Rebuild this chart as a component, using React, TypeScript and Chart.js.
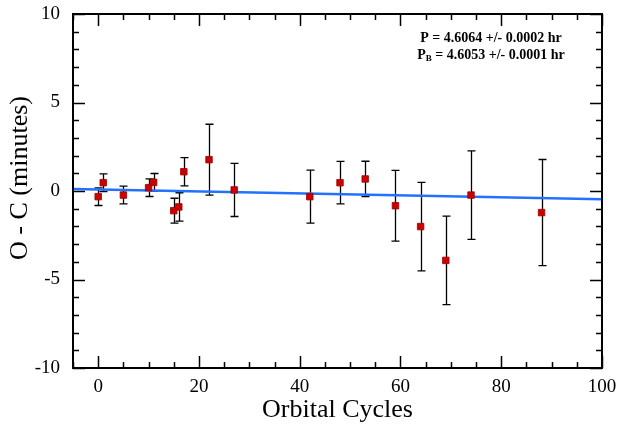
import React, { useEffect, useRef } from 'react';
import { Chart, registerables } from 'chart.js';

Chart.register(...registerables);

// ---- data ----
const cycles = [0, 1, 5, 10, 11, 15, 16, 17, 22, 27, 42, 48, 53, 59, 64, 69, 74, 88];
const ocMinutes = [-0.32, 0.47, -0.23, 0.19, 0.49, -1.11, -0.9, 1.09, 1.77, 0.06, -0.32, 0.47, 0.68, -0.83, -2.01, -3.92, -0.23, -1.22];
const ocErrors = [0.5, 0.5, 0.5, 0.5, 0.5, 0.7, 0.8, 0.8, 2.0, 1.5, 1.5, 1.2, 1.0, 2.0, 2.5, 2.5, 2.5, 3.0];
const fitCycles = [-5, 100];
const fitOC = [0.12, -0.47];
const xTickLabels = [0, 20, 40, 60, 80, 100];
const yTickLabels = [-10, -5, 0, 5, 10];
const xRange = [-5, 100];
const yRange = [-10, 10];
const xMinorStep = 5;
const xMajorStep = 20;
const yMinorStep = 1;
const yMajorStep = 5;
const xTitle = 'Orbital Cycles';
const yTitle = 'O - C (minutes)';
const annotationLine1 = 'P = 4.6064 +/- 0.0002 hr';
const annotationLine2 = { head: 'P', sub: 'B', tail: ' = 4.6053 +/- 0.0001 hr' };

const FONT = "'Liberation Serif', 'Times New Roman', serif";

const errorBarPlugin = {
  id: 'errorBars',
  beforeDatasetsDraw(chart: any) {
    const { ctx, scales } = chart;
    const x = scales.x;
    const y = scales.y;
    ctx.save();
    ctx.strokeStyle = '#000';
    ctx.lineWidth = 1.3;
    const cap = 4;
    for (let i = 0; i < cycles.length; i++) {
      const px = Math.round(x.getPixelForValue(cycles[i])) + 0.5;
      const top = y.getPixelForValue(ocMinutes[i] + ocErrors[i]);
      const bot = y.getPixelForValue(ocMinutes[i] - ocErrors[i]);
      ctx.beginPath();
      ctx.moveTo(px, top);
      ctx.lineTo(px, bot);
      ctx.moveTo(px - cap, top);
      ctx.lineTo(px + cap, top);
      ctx.moveTo(px - cap, bot);
      ctx.lineTo(px + cap, bot);
      ctx.stroke();
    }
    ctx.restore();
  },
};

const framePlugin = {
  id: 'frame',
  afterDraw(chart: any) {
    const { ctx, chartArea: a, scales } = chart;
    const x = scales.x;
    const y = scales.y;
    ctx.save();
    ctx.strokeStyle = '#000';
    ctx.lineWidth = 1.5;
    ctx.beginPath();
    for (let v = xRange[0]; v <= xRange[1] + 1e-9; v += xMinorStep) {
      const px = Math.round(x.getPixelForValue(v)) + 0.5;
      const len = Math.abs(v % xMajorStep) < 1e-9 ? 12 : 6;
      ctx.moveTo(px, a.bottom);
      ctx.lineTo(px, a.bottom - len);
      ctx.moveTo(px, a.top);
      ctx.lineTo(px, a.top + len);
    }
    for (let v = yRange[0]; v <= yRange[1] + 1e-9; v += yMinorStep) {
      const py = Math.round(y.getPixelForValue(v)) + 0.5;
      const len = Math.abs(v % yMajorStep) < 1e-9 ? 12 : 6;
      ctx.moveTo(a.left, py);
      ctx.lineTo(a.left + len, py);
      ctx.moveTo(a.right, py);
      ctx.lineTo(a.right - len, py);
    }
    ctx.stroke();
    ctx.lineWidth = 2;
    ctx.strokeRect(a.left, a.top, a.right - a.left, a.bottom - a.top);

    // y axis title
    ctx.fillStyle = '#000';
    ctx.save();
    ctx.translate(20, a.top + 164);
    ctx.rotate(-Math.PI / 2);
    ctx.textAlign = 'center';
    ctx.textBaseline = 'middle';
    ctx.font = `26px ${FONT}`;
    ctx.fillText(yTitle, 0, 0);
    ctx.restore();

    // annotation
    ctx.textBaseline = 'middle';
    ctx.textAlign = 'left';
    const cx = a.right - 111;
    ctx.font = `bold 14px ${FONT}`;
    const w1 = ctx.measureText(annotationLine1).width;
    ctx.fillText(annotationLine1, cx - w1 / 2, a.top + 24);
    const wHead = ctx.measureText(annotationLine2.head).width;
    const wTail = ctx.measureText(annotationLine2.tail).width;
    ctx.font = `bold 9px ${FONT}`;
    const wSub = ctx.measureText(annotationLine2.sub).width;
    const total = wHead + wSub + wTail;
    let sx = cx - total / 2;
    const ly = a.top + 41;
    ctx.font = `bold 14px ${FONT}`;
    ctx.fillText(annotationLine2.head, sx, ly);
    sx += wHead;
    ctx.font = `bold 9px ${FONT}`;
    ctx.fillText(annotationLine2.sub, sx, ly + 4);
    sx += wSub;
    ctx.font = `bold 14px ${FONT}`;
    ctx.fillText(annotationLine2.tail, sx, ly);
    ctx.restore();
  },
};

export default function App() {
  const ref = useRef<HTMLCanvasElement | null>(null);
  useEffect(() => {
    if (!ref.current) return;
    const chart = new Chart(ref.current, {
      type: 'scatter',
      data: {
        datasets: [
          {
            type: 'scatter',
            data: cycles.map((c, i) => ({ x: c, y: ocMinutes[i] })),
            pointStyle: 'rect',
            pointRadius: 4.6,
            backgroundColor: '#cc0000',
            borderColor: '#990000',
            borderWidth: 0.8,
          },
          {
            type: 'line',
            data: fitCycles.map((c, i) => ({ x: c, y: fitOC[i] })),
            borderColor: '#2272ff',
            borderWidth: 2.5,
            pointRadius: 0,
            fill: false,
          },
        ],
      } as any,
      options: {
        animation: false,
        responsive: false,
        layout: { padding: { top: 14, right: 18, left: 0, bottom: 0 } },
        plugins: { legend: { display: false }, tooltip: { enabled: false } },
        scales: {
          x: {
            type: 'linear',
            min: xRange[0],
            max: xRange[1],
            grid: { display: false, drawTicks: false },
            border: { display: false },
            afterBuildTicks: (s: any) => {
              s.ticks = xTickLabels.map((v) => ({ value: v }));
            },
            ticks: {
              autoSkip: false,
              maxRotation: 0,
              padding: 8,
              color: '#000',
              font: { family: FONT, size: 19 },
            },
            title: {
              display: true,
              text: xTitle,
              color: '#000',
              font: { family: FONT, size: 26 },
              padding: { top: 0, bottom: 3 },
            },
            afterFit: (s: any) => {
              s.height = 61;
              s.paddingLeft = 0;
              s.paddingRight = 0;
              s.paddingTop = 0;
              s.paddingBottom = 0;
            },
          },
          y: {
            type: 'linear',
            min: yRange[0],
            max: yRange[1],
            grid: { display: false, drawTicks: false },
            border: { display: false },
            afterBuildTicks: (s: any) => {
              s.ticks = yTickLabels.map((v) => ({ value: v }));
            },
            ticks: {
              autoSkip: false,
              padding: 13,
              color: '#000',
              font: { family: FONT, size: 19 },
            },
            title: { display: false },
            afterFit: (s: any) => {
              s.width = 73;
              s.paddingLeft = 0;
              s.paddingRight = 0;
              s.paddingTop = 0;
              s.paddingBottom = 0;
            },
          },
        },
      } as any,
      plugins: [errorBarPlugin, framePlugin],
    });
    return () => chart.destroy();
  }, []);
  return (
    <div style={{ position: 'absolute', left: 0, top: 0, width: 620, height: 429, background: '#fff' }}>
      <canvas ref={ref} width={620} height={429} />
    </div>
  );
}
